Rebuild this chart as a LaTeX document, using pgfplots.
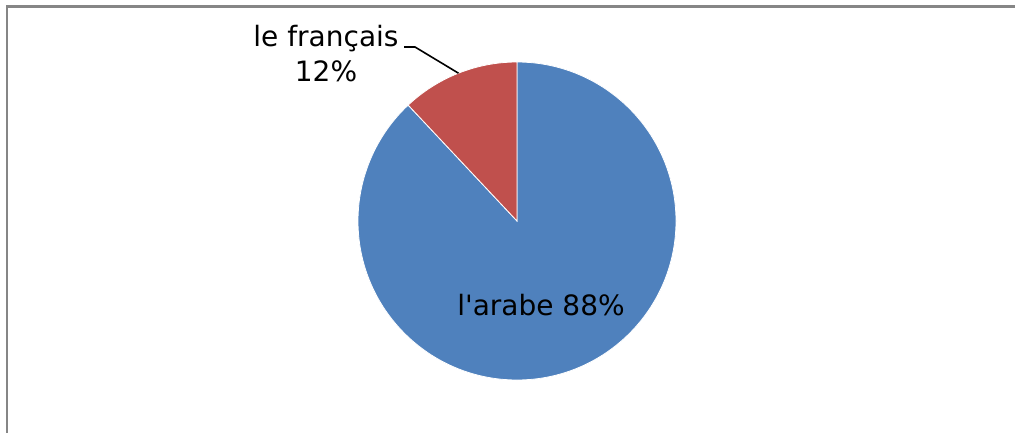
\documentclass[border=0pt]{standalone}
\usepackage{fontspec}
\setmainfont{DejaVu Sans}[Ligatures=TeXOff]
\usepackage{pgfplots}
\pgfplotsset{compat=1.18}
\definecolor{pieblue}{RGB}{79,129,189}
\definecolor{piered}{RGB}{192,80,77}
\definecolor{framegray}{RGB}{134,134,134}
\pgfmathsetmacro{\va}{88}
\pgfmathsetmacro{\vf}{12}
\pgfmathsetmacro{\aa}{\va/(\va+\vf)*360}
\pgfmathsetmacro{\af}{\vf/(\va+\vf)*360}
\begin{document}
\begin{tikzpicture}
\begin{axis}[name=ax, x=1pt, y=1pt, xmin=0, xmax=1015, ymin=0, ymax=432,
  hide axis, scale only axis, clip=true]
\draw[framegray, line width=2.6pt] (axis cs:7,-20) -- (axis cs:7,425.5) -- (axis cs:1040,425.5);
\fill[pieblue, draw=white, line width=0.8pt] (axis cs:517,211) -- ++(90:159pt)
  arc[start angle=90, delta angle=-\aa, radius=159pt] -- cycle;
\fill[piered, draw=white, line width=0.8pt] (axis cs:517,211) -- ++(90:159pt)
  arc[start angle=90, delta angle=\af, radius=159pt] -- cycle;
\draw[black, line width=1.6pt] (axis cs:404,385) -- (axis cs:415,385) -- (axis cs:458.5,358.8);
\node[anchor=base, font=\fontsize{28}{34}\selectfont] at (axis cs:541,117) {l'arabe 88\%};
\node[anchor=base, font=\fontsize{28}{34}\selectfont] at (axis cs:326,385) {le français};
\node[anchor=base, font=\fontsize{28}{34}\selectfont] at (axis cs:326,350) {12\%};
\end{axis}
\pgfresetboundingbox
\useasboundingbox (ax.south west) rectangle (ax.north east);
\end{tikzpicture}
\end{document}
